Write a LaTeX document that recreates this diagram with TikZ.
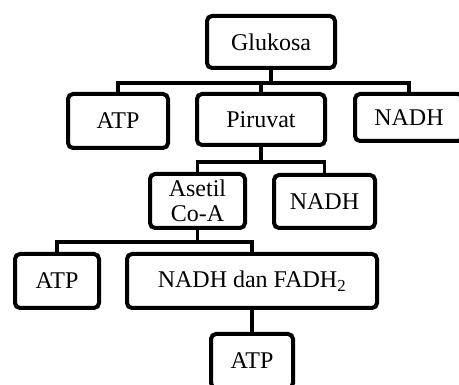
\documentclass[tikz,border=0pt]{standalone}
\usepackage{fontspec}
\setmainfont{Liberation Serif}
\usetikzlibrary{positioning}
\tikzset{
    block/.style = {draw, rectangle, rounded corners=5pt, line width=4pt,
        minimum height=54pt, inner sep=0pt, align=center,
        font=\fontsize{24}{25}\selectfont},
    branch/.style = {draw, line width=3.5pt}
}

\begin{document}
\begin{tikzpicture}[x=1pt, y=-1pt]
        \useasboundingbox (0,0) rectangle (459,385);
        \clip (0,0) rectangle (459,385);
        \node [block, minimum width=128pt, minimum height=52pt] (glukosa) at (271,42) {Glukosa};
        \node [block, minimum width=100pt] (atp1) at (118,121) {ATP};
        \node [block, minimum width=128pt, minimum height=51pt] (piruvat) at (261,119.5) {Piruvat};
        \node [block, minimum width=108pt, minimum height=47pt] (nadh1) at (409,117.5) {NADH};
        \node [block, minimum width=95pt] (asetil) at (197.5,201) {Asetil\\Co-A};
        \node [block, minimum width=101pt, minimum height=53pt] (nadh2) at (324.5,201.5) {NADH};
        \node [block, minimum width=84pt] (atp2) at (57,281) {ATP};
        \node [block, minimum width=250pt] (fadh) at (252,281) {NADH dan FADH\textsubscript{2}};
        \node [block, minimum width=82pt] (atp3) at (252,361) {ATP};
        % glukosa
        \draw [branch] (glukosa.south) -- ++(0,13) coordinate (gbar);
        \draw [branch] (gbar) -| (atp1.north);
        \draw [branch] (gbar) -| (piruvat.north);
        \draw [branch] (gbar) -| (nadh1.north);
        % piruvat
        \draw [branch] (piruvat.south) -- ++(0,15) coordinate (pbar);
        \draw [branch] (pbar) -| (asetil.north);
        \draw [branch] (pbar) -| (nadh2.north);
        % asetil co-a
        \draw [branch] (asetil.south) -- ++(0,12) coordinate (abar);
        \draw [branch] (abar) -| (atp2.north);
        \draw [branch] (abar) -| (fadh.north);
        \draw [branch] (fadh) -- (atp3);
        \end{tikzpicture}
\end{document}
